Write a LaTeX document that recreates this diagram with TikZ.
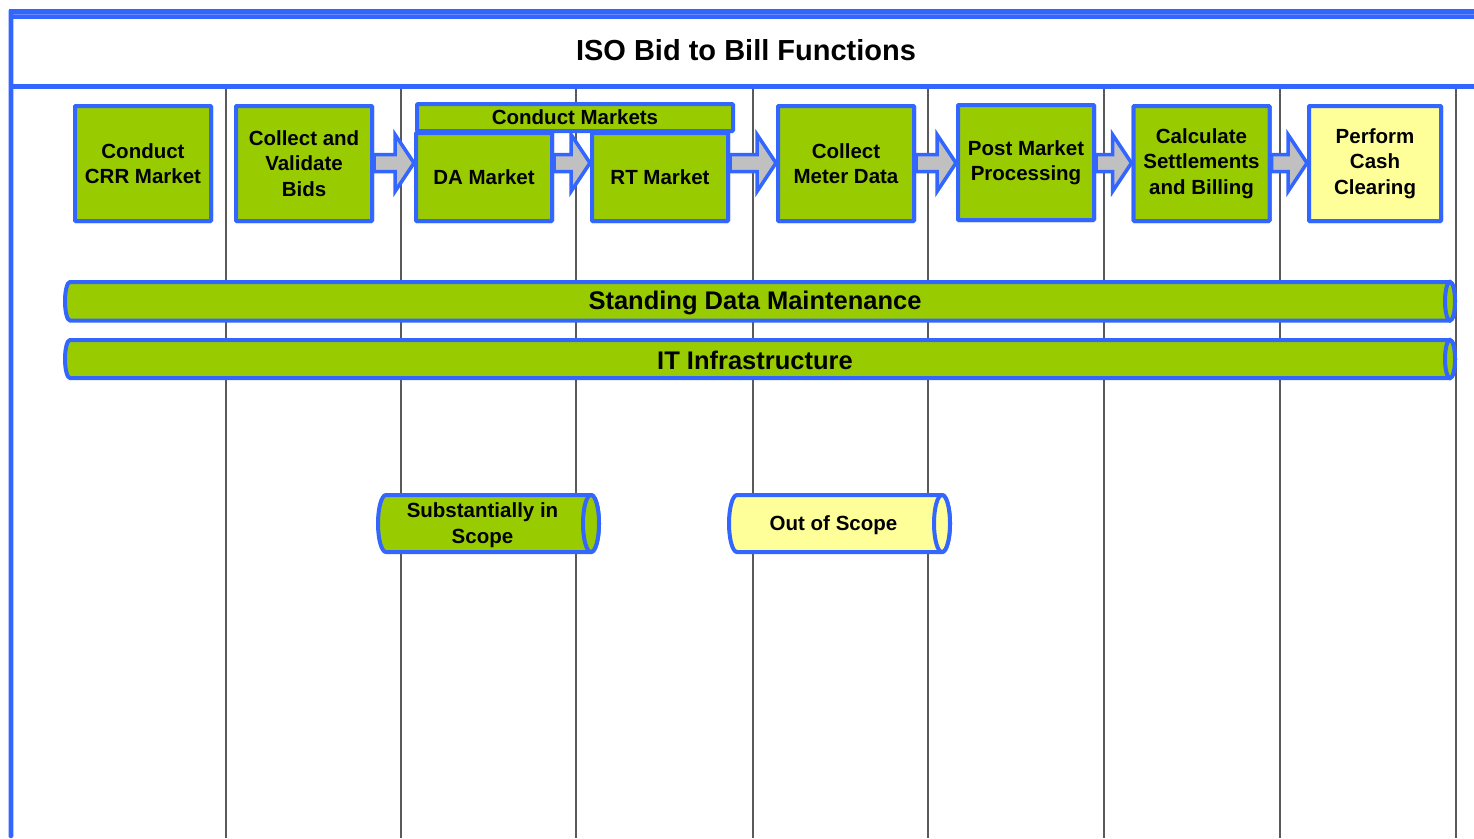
\documentclass[tikz,border=0pt]{standalone}
\usepackage{fontspec}
\setmainfont{Liberation Sans}
\usetikzlibrary{calc}

\definecolor{frameblue}{HTML}{3366FF}
\definecolor{lightstripe}{HTML}{6A8DFF}
\definecolor{stepgreen}{HTML}{99CC00}
\definecolor{outyellow}{HTML}{FFFF99}
\definecolor{arrowgrey}{HTML}{C0C0C0}
\definecolor{laneline}{HTML}{5A5A5A}

\tikzset{
  func/.style={draw=frameblue, line width=4pt, fill=stepgreen, rounded corners=1pt,
    align=center, inner sep=0pt, minimum width=136pt,
    font=\bfseries\fontsize{20.5}{25.5}\selectfont},
  tallfunc/.style={func, minimum height=115pt},
  shortfunc/.style={func, minimum height=88pt},
  outfunc/.style={fill=outyellow},
  flowarrow/.style={draw=frameblue, line width=3.5pt, fill=arrowgrey, line join=miter},
  lane/.style={draw=laneline, line width=1.2pt},
  drum/.style={draw=frameblue, line width=4pt},
  drumtext/.style={align=center, inner sep=0pt},
  bigdrumfont/.style={font=\bfseries\fontsize{25.5}{30}\selectfont, yshift=-1.5pt},
  smalldrumfont/.style={font=\bfseries\fontsize{20.5}{26}\selectfont, xshift=2pt, yshift=-1.5pt},
}

% horizontal cylinder: name, left x, right x, top y, bottom y, end radius (pt), fill, text style, text
\newcommand\drumbar[9]{%
  \pgfmathsetmacro\dbry{(#5-#4)/2}%
  \draw[drum, fill=#7] (#2+#6,#4) -- (#3-#6,#4)
     arc[start angle=90, end angle=-90, x radius=#6pt, y radius=\dbry pt]
     -- (#2+#6,#5)
     arc[start angle=270, end angle=90, x radius=#6pt, y radius=\dbry pt] -- cycle;
  \draw[drum, fill=#7] (#3-#6,{(#4+#5)/2}) ellipse[x radius=#6pt, y radius=\dbry pt];
  \node[drumtext, #8] (#1) at ({(#2+#3)/2-#6}, {(#4+#5)/2}) {#9};
}

% block arrow from one step to the next, on the common axis (ay)
\newcommand\flow[2]{%
  \draw[flowarrow]
    ($(#1.east |- ay)+(0,-8.5)$) -- ($(#2.west |- ay)+(-19,-8.5)$)
    -- ($(#2.west |- ay)+(-19,-28.5)$) -- (#2.west |- ay)
    -- ($(#2.west |- ay)+(-19,28.5)$) -- ($(#2.west |- ay)+(-19,8.5)$)
    -- ($(#1.east |- ay)+(0,8.5)$) -- cycle;
}

\begin{document}
\begin{tikzpicture}[x=1pt, y=-1pt]
\useasboundingbox (0,0) rectangle (1474,838);

% frame and header
\fill[frameblue] (8.5,9) rectangle (1474,19);
\draw[lightstripe, line width=0.8pt] (13,14.8) -- (1474,14.8);
\fill[frameblue, rounded corners=1.5pt] (8.5,9) rectangle (13.3,838);
\fill[frameblue] (11,84.2) rectangle (1474,88.5);
\node[font=\bfseries\fontsize{29}{34}\selectfont] (title) at (746,50) {ISO Bid to Bill Functions};

% swim lane separators
\foreach \lx in {226,401,576,753,928,1104,1280,1456}
  \draw[lane] (\lx,88.5) -- (\lx,838);

\coordinate (ay) at (0,163);

% process steps
\node[tallfunc] (crr) at (143,163.5) {Conduct\\CRR Market};
\node[tallfunc] (bids) at (304,163.5) {Collect and\\Validate\\Bids};
\node[shortfunc] (da) at (484,177) {DA Market};
\node[shortfunc] (rt) at (660,177) {RT Market};
\node[tallfunc] (meter) at (846,163.5) {Collect\\Meter Data};
\node[tallfunc] (post) at (1026,162.5) {Post Market\\Processing};
\node[tallfunc] (settle) at (1201.5,163.5) {Calculate\\Settlements\\and Billing};
\node[tallfunc, outfunc, minimum width=132pt] (cash) at (1375,163.5) {Perform\\Cash\\Clearing};

% connectors between steps
\flow{bids}{da}
\flow{da}{rt}
\flow{rt}{meter}
\flow{meter}{post}
\flow{post}{settle}
\flow{settle}{cash}

% redraw steps over the arrow tails and tips
\node[tallfunc] at (crr) {Conduct\\CRR Market};
\node[tallfunc] at (bids) {Collect and\\Validate\\Bids};
\node[shortfunc] at (da) {DA Market};
\node[shortfunc] at (rt) {RT Market};
\node[tallfunc] at (meter) {Collect\\Meter Data};
\node[tallfunc] at (post) {Post Market\\Processing};
\node[tallfunc] at (settle) {Calculate\\Settlements\\and Billing};
\node[tallfunc, outfunc, minimum width=132pt] at (cash) {Perform\\Cash\\Clearing};

% market group header
\node[func, minimum width=316pt, minimum height=27pt,
      font=\bfseries\fontsize{20.5}{24}\selectfont] (markets) at (575,117.5) {Conduct Markets};

% cross-cutting functions
\drumbar{sdm}{65}{1455}{282}{320.5}{5}{stepgreen}{bigdrumfont}{Standing Data Maintenance}
\drumbar{itinf}{65}{1455}{340}{378}{5}{stepgreen}{bigdrumfont}{IT Infrastructure}

% legend
\drumbar{inscope}{378}{599}{495}{552}{8}{stepgreen}{smalldrumfont}{Substantially in\\Scope}
\drumbar{outscope}{729}{950}{495}{552}{8}{outyellow}{smalldrumfont}{Out of Scope}
\end{tikzpicture}
\end{document}
